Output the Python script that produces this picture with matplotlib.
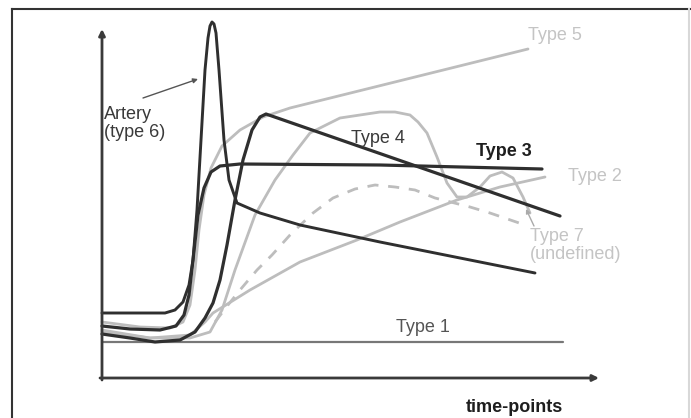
import matplotlib.pyplot as plt
from matplotlib.lines import Line2D
import numpy as np

plt.rcParams['font.family'] = ['Liberation Sans', 'DejaVu Sans']

# schematic enhancement curves: (time, signal)
artery_t = [0, 63, 73, 81, 87, 91, 95, 99, 103, 106, 108, 110, 112, 114, 117, 122, 127, 135, 158, 198, 278, 358, 433]
artery_s = [65, 65, 68, 76, 93, 118, 168, 238, 308, 340, 352, 356, 354, 345, 308, 238, 198, 175, 165, 153, 136, 120, 105]

type3_t = [0, 28, 58, 74, 82, 87, 91, 96, 102, 109, 118, 138, 278, 440]
type3_s = [52, 49, 48, 52, 63, 83, 118, 163, 190, 206, 212, 214, 213, 209]

type4_t = [0, 28, 53, 78, 93, 103, 111, 118, 125, 133, 141, 150, 158, 164, 458]
type4_s = [44, 40, 36, 38, 46, 60, 75, 98, 133, 178, 218, 248, 261, 264, 162]

type5_t = [0, 38, 68, 81, 88, 93, 97, 102, 109, 120, 138, 161, 188, 426]
type5_s = [56, 51, 50, 56, 73, 108, 148, 183, 210, 232, 248, 261, 270, 329]

type7_t = [0, 48, 88, 108, 120, 133, 153, 173, 191, 208, 238, 278, 293, 308, 316, 325, 335, 345, 355, 365, 378, 388, 400, 411, 421, 428]
type7_s = [48, 40, 40, 46, 68, 108, 163, 198, 223, 245, 260, 266, 266, 263, 256, 245, 221, 195, 181, 181, 191, 202, 206, 200, 181, 165]

type2_t = [0, 48, 88, 103, 111, 148, 198, 255, 298, 355, 398, 443]
type2_s = [46, 40, 43, 56, 65, 88, 116, 138, 156, 178, 191, 201]

dashed_t = [113, 126, 138, 155, 170, 188, 211, 231, 253, 273, 293, 313, 333, 368, 388, 423]
dashed_s = [56, 73, 88, 108, 123, 143, 165, 180, 189, 193, 191, 188, 180, 171, 165, 153]

type1_t = [0, 461]
type1_s = [36, 36]

dark = '#2f2f2f'
light = '#bdbdbd'
fs = 13

fig = plt.figure(figsize=(6.91, 4.18), dpi=100)
ax = fig.add_axes([102 / 691, 40 / 418, 496 / 691, 347 / 418])
ax.set_xlim(0, 496)
ax.set_ylim(0, 347)
ax.axis('off')

kw = dict(solid_joinstyle='round', solid_capstyle='round', clip_on=False)
ax.plot(type1_t, type1_s, color='#777777', lw=1.6, **kw)
ax.plot(type2_t, type2_s, color=light, lw=2.0, **kw)
ax.plot(type7_t, type7_s, color=light, lw=2.0, **kw)
ax.plot(type5_t, type5_s, color=light, lw=2.0, **kw)
ax.plot(dashed_t, dashed_s, color=light, lw=2.0, ls=(0, (4, 3.5)), clip_on=False)
ax.plot(type4_t, type4_s, color=dark, lw=2.3, **kw)
ax.plot(type3_t, type3_s, color=dark, lw=2.3, **kw)
ax.plot(artery_t, artery_s, color=dark, lw=2.1, **kw)

# axes with arrow heads
ax.annotate('', xy=(0, 349), xytext=(0, -2),
            arrowprops=dict(arrowstyle='-|>', color='#3a3a3a', lw=2, mutation_scale=9, shrinkA=0, shrinkB=0),
            annotation_clip=False)
ax.annotate('', xy=(497, 0), xytext=(-2, 0),
            arrowprops=dict(arrowstyle='-|>', color='#3a3a3a', lw=2, mutation_scale=9, shrinkA=0, shrinkB=0),
            annotation_clip=False)

# labels
ax.text(2, 272, 'Artery\n(type 6)', color='#3a3a3a', fontsize=fs, ha='left', va='top', linespacing=1.05)
ax.annotate('', xy=(96, 299), xytext=(41, 280),
            arrowprops=dict(arrowstyle='-|>', color='#555555', lw=1, mutation_scale=7, shrinkA=0, shrinkB=0),
            annotation_clip=False)
ax.text(453, 343, 'Type 5', color='#c4c4c4', fontsize=fs, ha='center', va='center')
ax.text(276, 240, 'Type 4', color='#3a3a3a', fontsize=fs, ha='center', va='center')
ax.text(402, 227, 'Type 3', color='#1e1e1e', fontsize=fs, fontweight='bold', ha='center', va='center')
ax.text(493, 202, 'Type 2', color='#c4c4c4', fontsize=fs, ha='center', va='center')
ax.text(428, 150, 'Type 7\n(undefined)', color='#c4c4c4', fontsize=fs, ha='left', va='top', linespacing=1.05)
ax.annotate('', xy=(424, 169), xytext=(432, 152),
            arrowprops=dict(arrowstyle='-|>', color='#aaaaaa', lw=1, mutation_scale=6, shrinkA=0, shrinkB=0),
            annotation_clip=False)
ax.text(321, 51, 'Type 1', color='#555555', fontsize=fs, ha='center', va='center')
ax.text(412, -29, 'time-points', color='#1e1e1e', fontsize=fs, fontweight='bold', ha='center', va='center')

# outer frame
fig.add_artist(Line2D([12 / 691, 690 / 691], [1 - 9 / 418, 1 - 9 / 418], color='#333333', lw=1.5))
fig.add_artist(Line2D([12 / 691, 12 / 691], [0, 1 - 9 / 418], color='#333333', lw=1.5))
fig.add_artist(Line2D([689 / 691, 689 / 691], [0, 1 - 9 / 418], color='#d8d8d8', lw=1.5))

fig.savefig('out.png', dpi=100)
